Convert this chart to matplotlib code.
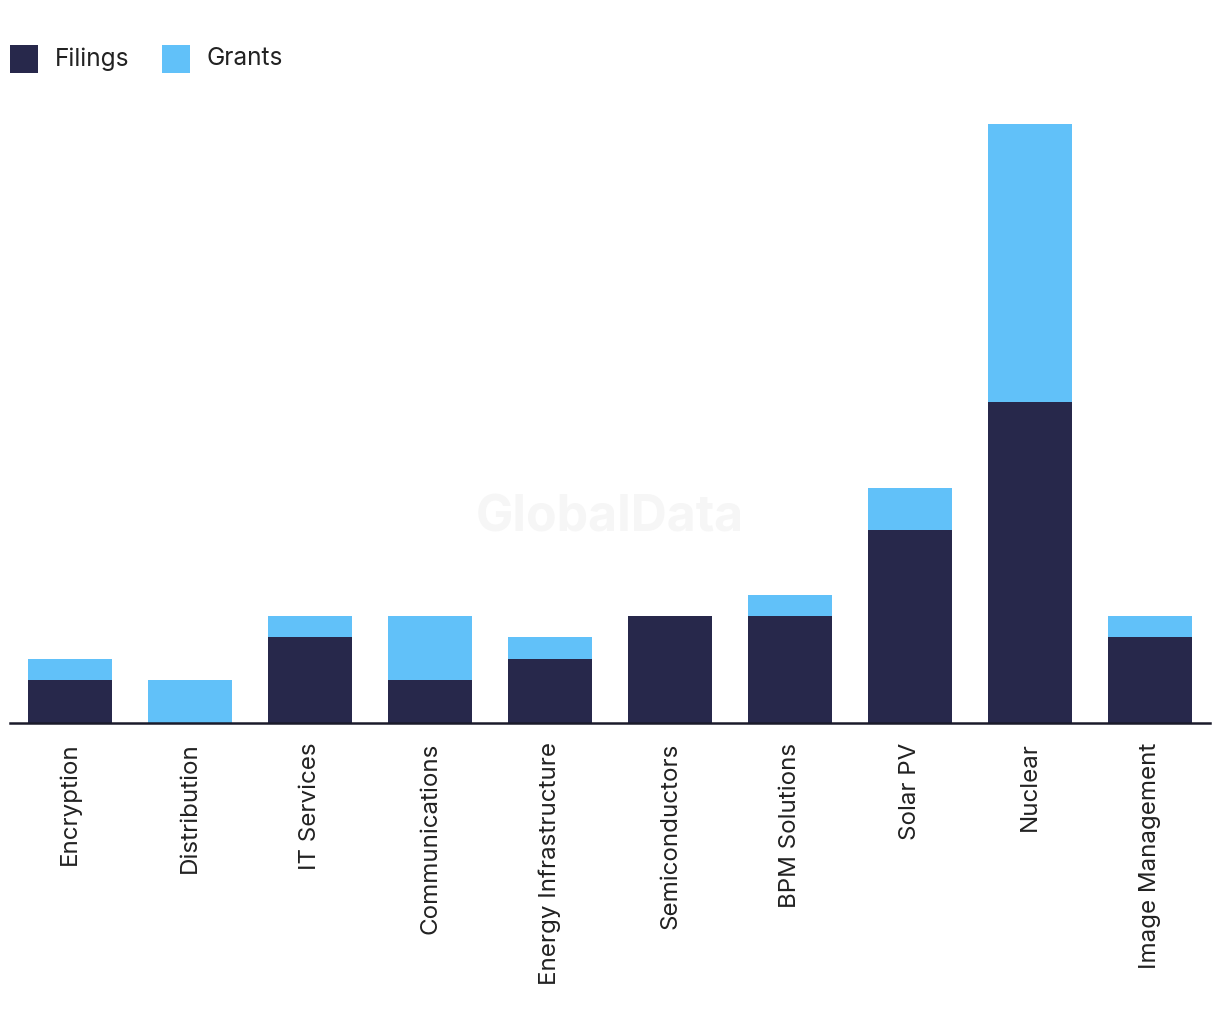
import matplotlib
matplotlib.use("Agg")
import matplotlib.pyplot as plt
from matplotlib.patches import Rectangle

categories = ["Encryption", "Distribution", "IT Services", "Communications",
              "Energy Infrastructure", "Semiconductors", "BPM Solutions",
              "Solar PV", "Nuclear", "Image Management"]
filings = [2, 0, 4, 2, 3, 5, 5, 9, 15, 4]
grants = [1, 2, 1, 3, 1, 0, 1, 2, 13, 1]
series_names = ["Filings", "Grants"]

navy = "#27284B"
blue = "#61C1F9"

plt.rcParams['font.family'] = ['Inter', 'DejaVu Sans']

W, H = 1220, 1036
fig = plt.figure(figsize=(W/100, H/100), dpi=100)
ax = fig.add_axes([10/W, (H-723)/H, 1200/W, 599/H])

x = list(range(len(categories)))
ax.bar(x, filings, width=0.7, color=navy, zorder=2)
ax.bar(x, grants, width=0.7, bottom=filings, color=blue, zorder=2)

ax.set_xlim(-0.5, len(categories) - 0.5)
ax.set_ylim(0, 28)
for s in ["top", "right", "left"]:
    ax.spines[s].set_visible(False)
ax.spines["bottom"].set_linewidth(1.8)
ax.spines["bottom"].set_color("#1a1a2a")
ax.spines["bottom"].set_zorder(3)
ax.set_yticks([])
ax.set_xticks(x)
ax.set_xticklabels(categories, rotation=90, fontsize=17.4, color="#222222")
ax.tick_params(axis="x", length=0, pad=14)

fig.text(610/W, 1 - 518/H, "GlobalData", fontsize=36, fontweight="bold",
         color="#f6f6f6", ha="center", va="center", zorder=0)

# legend
for name, col, x0 in zip(series_names, [navy, blue], [10, 162]):
    fig.patches.append(Rectangle((x0/W, 1 - 73/H), 28/W, 28/H, facecolor=col,
                                 transform=fig.transFigure, figure=fig))
    fig.text((x0 + 45)/W, 1 - 59/H, name, fontsize=17.6, color="#222222",
             ha="left", va="center")

fig.savefig("out.png", dpi=100)
